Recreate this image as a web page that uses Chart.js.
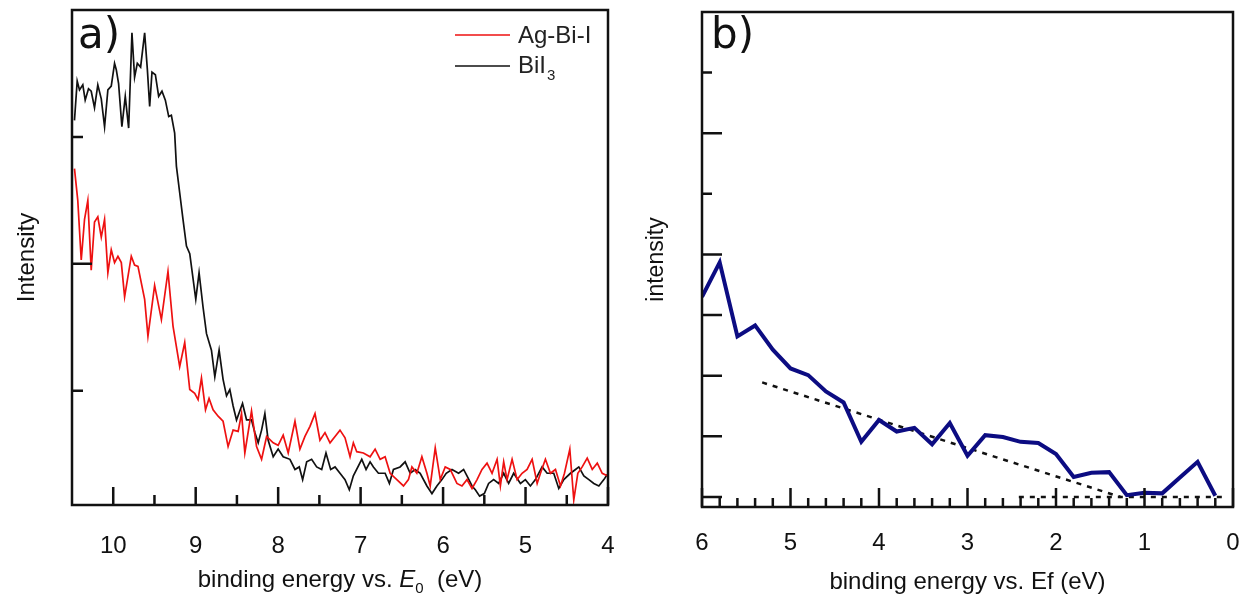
<!DOCTYPE html>
<html><head><meta charset="utf-8">
<script src="https://cdn.jsdelivr.net/npm/chart.js@4.4.1/dist/chart.umd.min.js"></script>
<style>
html,body{margin:0;padding:0;background:#fff;}
#ca{position:absolute;left:0;top:0;}
#cb{position:absolute;left:640px;top:0;}
</style></head><body>
<canvas id="ca" width="640" height="606"></canvas>
<canvas id="cb" width="604" height="606"></canvas>
<script>
// ---------- panel a data ----------
const bii3E = [10.47,10.437,10.409,10.369,10.34,10.30,10.267,10.227,10.187,10.145,10.105,10.065,10.024,9.984,9.963,9.935,9.895,9.854,9.813,9.773,9.741,9.708,9.668,9.619,9.586,9.558,9.53,9.489,9.449,9.409,9.368,9.327,9.295,9.255,9.234,9.194,9.154,9.112,9.072,8.999,8.959,8.911,8.869,8.809,8.768,8.716,8.668,8.626,8.586,8.546,8.505,8.432,8.383,8.323,8.282,8.242,8.201,8.161,8.121,8.06,8.0,7.939,7.857,7.796,7.744,7.703,7.654,7.594,7.533,7.472,7.42,7.363,7.31,7.25,7.189,7.137,7.088,6.986,6.934,6.885,6.845,6.784,6.703,6.651,6.602,6.521,6.46,6.399,6.338,6.278,6.196,6.135,6.075,6.014,5.962,5.892,5.812,5.751,5.71,5.649,5.609,5.557,5.5,5.448,5.387,5.326,5.265,5.205,5.144,5.062,5.002,4.941,4.88,4.799,4.738,4.658,4.597,4.536,4.455,4.394,4.354,4.293,4.232,4.172,4.111,4.05,4.009];
const bii3I = [3.13,3.44,3.37,3.41,3.29,3.38,3.36,3.23,3.41,3.30,3.08,3.37,3.40,3.58,3.53,3.42,3.08,3.32,3.07,3.82,3.47,3.58,3.55,3.82,3.53,3.24,3.51,3.49,3.32,3.36,3.29,3.16,3.17,3.03,2.77,2.56,2.35,2.14,2.08,1.72,1.93,1.66,1.45,1.32,1.11,1.32,1.09,0.96,1.01,0.88,0.77,0.90,0.77,0.77,0.67,0.59,0.69,0.82,0.61,0.48,0.54,0.48,0.46,0.38,0.40,0.30,0.44,0.46,0.40,0.38,0.51,0.38,0.40,0.35,0.30,0.22,0.33,0.46,0.38,0.44,0.40,0.35,0.35,0.27,0.38,0.40,0.44,0.35,0.38,0.35,0.25,0.19,0.25,0.30,0.35,0.38,0.35,0.38,0.33,0.25,0.22,0.17,0.19,0.27,0.30,0.27,0.35,0.27,0.35,0.27,0.30,0.25,0.30,0.40,0.35,0.35,0.23,0.30,0.35,0.38,0.40,0.33,0.30,0.27,0.25,0.30,0.34];
const agbiE = [10.47,10.43,10.388,10.348,10.308,10.267,10.227,10.187,10.145,10.105,10.065,10.024,9.984,9.943,9.902,9.862,9.781,9.741,9.70,9.619,9.579,9.498,9.416,9.336,9.275,9.194,9.133,9.072,9.012,8.971,8.93,8.881,8.838,8.789,8.728,8.668,8.607,8.546,8.485,8.444,8.404,8.323,8.262,8.201,8.14,8.06,8.0,7.939,7.878,7.796,7.736,7.675,7.614,7.553,7.493,7.432,7.371,7.31,7.25,7.189,7.128,7.088,7.047,6.966,6.885,6.824,6.763,6.703,6.642,6.561,6.48,6.42,6.378,6.318,6.257,6.196,6.156,6.095,6.034,5.974,5.913,5.832,5.771,5.71,5.649,5.588,5.528,5.467,5.406,5.345,5.305,5.265,5.224,5.163,5.102,5.042,4.981,4.92,4.859,4.819,4.759,4.698,4.637,4.576,4.528,4.463,4.415,4.366,4.313,4.252,4.191,4.13,4.07,4.009];
const agbiI = [2.75,2.50,2.03,2.35,2.50,1.95,2.33,2.37,2.21,2.35,1.93,2.11,2.01,2.06,2.01,1.74,2.06,1.99,1.98,1.72,1.43,1.83,1.56,1.94,1.51,1.19,1.38,1.01,0.98,0.93,1.10,0.85,0.94,0.85,0.80,0.76,0.56,0.69,0.68,0.82,0.51,0.84,0.56,0.46,0.64,0.59,0.57,0.65,0.51,0.76,0.54,0.64,0.72,0.82,0.61,0.67,0.59,0.64,0.69,0.63,0.48,0.59,0.52,0.51,0.48,0.54,0.46,0.48,0.35,0.30,0.25,0.30,0.40,0.35,0.48,0.35,0.25,0.55,0.30,0.40,0.38,0.27,0.25,0.30,0.23,0.30,0.38,0.43,0.35,0.46,0.25,0.44,0.30,0.46,0.30,0.35,0.38,0.46,0.27,0.35,0.46,0.35,0.38,0.25,0.35,0.54,0.14,0.35,0.40,0.47,0.38,0.43,0.35,0.33];
const ticksA = [10,9,8,7,6,5,4];
const seriesA = ['Ag-Bi-I','BiI'];

// ---------- panel b data ----------
const efE = [6.0,5.8,5.6,5.4,5.2,5.0,4.8,4.6,4.4,4.2,4.0,3.8,3.6,3.4,3.2,3.0,2.8,2.6,2.4,2.2,2.0,1.8,1.6,1.4,1.2,1.0,0.8,0.6,0.4,0.2];
const efI = [3.30,3.87,2.65,2.83,2.43,2.12,2.01,1.74,1.56,0.91,1.27,1.08,1.14,0.87,1.22,0.68,1.02,0.99,0.91,0.89,0.71,0.33,0.40,0.41,0.03,0.07,0.06,0.32,0.58,0.02];
const fitE = [5.32,1.27];
const fitI = [1.89,0];
const baseE = [2.42,0.06];
const baseI = [0,0];
const ticksB = [6,5,4,3,2,1,0];

const SANS = "'Liberation Sans', Arial, sans-serif";
const INK = '#111';
const zip = (xs, ys) => xs.map((x, i) => ({x, y: ys[i]}));

function frameTicks(spec) {
  return {
    id: 'frameTicks',
    afterDraw(chart) {
      const {ctx, chartArea: {left, right, top, bottom}, scales: {x, y}} = chart;
      ctx.save();
      ctx.strokeStyle = INK;
      ctx.lineWidth = 2.5;
      ctx.beginPath();
      spec.x.forEach(([v, len]) => {
        const p = x.getPixelForValue(v);
        ctx.moveTo(p, bottom); ctx.lineTo(p, bottom - len);
      });
      spec.y.forEach(([v, len]) => {
        const p = y.getPixelForValue(v);
        ctx.moveTo(left, p); ctx.lineTo(left + len, p);
      });
      ctx.stroke();
      ctx.strokeRect(left, top, right - left, bottom - top);
      ctx.restore();
    }
  };
}
const noSidePad = s => { s.paddingLeft = 0; s.paddingRight = 0; };

// ---------- panel a ----------
const xTicksA = [];
for (let v = 4; v <= 10; v++) xTicksA.push([v, 18]);
for (let v = 4.5; v < 10.5; v += 1) xTicksA.push([v, 10]);
const yTicksA = [[1, 11], [2, 20], [3, 11]];

const decorA = {
  id: 'decorA',
  afterDraw(chart) {
    const {ctx, chartArea: {left, right}} = chart;
    ctx.save();
    ctx.fillStyle = INK;
    ctx.font = "42px 'DejaVu Sans'";
    ctx.textBaseline = 'alphabetic';
    ctx.textAlign = 'left';
    ctx.fillText('a)', 78, 48);
    // legend
    ctx.lineWidth = 1.6;
    ctx.strokeStyle = '#ee1111';
    ctx.beginPath(); ctx.moveTo(455, 35); ctx.lineTo(510, 35); ctx.stroke();
    ctx.strokeStyle = '#111';
    ctx.beginPath(); ctx.moveTo(455, 66); ctx.lineTo(510, 66); ctx.stroke();
    ctx.font = '24px ' + SANS;
    ctx.textBaseline = 'middle';
    ctx.fillStyle = '#222';
    ctx.fillText(seriesA[0], 518, 36);
    ctx.fillText(seriesA[1], 518, 66);
    const w = ctx.measureText(seriesA[1]).width;
    ctx.font = '15px ' + SANS;
    ctx.fillText('3', 518 + w + 1, 76);
    // x title with italic E and subscript 0
    const parts = [
      {t: 'binding energy vs. ', f: '24px ' + SANS, dy: 0},
      {t: 'E', f: 'italic 24px ' + SANS, dy: 0},
      {t: '0', f: '15px ' + SANS, dy: 9},
      {t: '  (eV)', f: '24px ' + SANS, dy: 0}
    ];
    let total = 0;
    parts.forEach(p => { ctx.font = p.f; p.w = ctx.measureText(p.t).width; total += p.w; });
    let cx = (left + right) / 2 - total / 2;
    const cy = 580;
    ctx.fillStyle = INK;
    parts.forEach(p => { ctx.font = p.f; ctx.fillText(p.t, cx, cy + p.dy); cx += p.w; });
    ctx.restore();
  }
};

new Chart(document.getElementById('ca'), {
  type: 'line',
  data: {
    datasets: [
      {label: seriesA[0], data: zip(agbiE, agbiI), borderColor: '#ee1111', borderWidth: 1.7, pointRadius: 0, tension: 0},
      {label: seriesA[1] + '3', data: zip(bii3E, bii3I), borderColor: '#111', borderWidth: 1.7, pointRadius: 0, tension: 0}
    ]
  },
  options: {
    responsive: false,
    animation: false,
    layout: {padding: {left: 0, top: 10, right: 32, bottom: 0}},
    plugins: {legend: {display: false}, tooltip: {enabled: false}},
    scales: {
      x: {
        type: 'linear', reverse: true, min: 4, max: 10.5,
        grid: {display: false, drawTicks: false}, border: {display: false},
        afterBuildTicks: s => { s.ticks = ticksA.map(v => ({value: v})); },
        afterFit: s => { s.height = 101; noSidePad(s); },
        ticks: {font: {family: SANS, size: 24}, color: INK, padding: 27, maxRotation: 0, autoSkip: false},
        title: {display: false}
      },
      y: {
        type: 'linear', min: 0.1, max: 4.0,
        grid: {display: false, drawTicks: false}, border: {display: false},
        ticks: {display: false},
        afterFit: s => { s.width = 72; },
        title: {display: true, text: 'Intensity', font: {family: SANS, size: 24}, color: INK, padding: {top: 13, bottom: 0}}
      }
    }
  },
  plugins: [frameTicks({x: xTicksA, y: yTicksA}), decorA]
});

// ---------- panel b ----------
const xTicksB = [];
for (let v = 0; v <= 6; v++) xTicksB.push([v, 19]);
for (let i = 1; i < 30; i++) if (i % 5 !== 0) xTicksB.push([i / 5, 9]);
const yTicksB = [[0, 20], [1, 20], [2, 20], [3, 20], [4, 20], [5, 10], [6, 20], [7, 10]];

const decorB = {
  id: 'decorB',
  afterDraw(chart) {
    const {ctx} = chart;
    ctx.save();
    ctx.fillStyle = INK;
    ctx.font = "42px 'DejaVu Sans'";
    ctx.textBaseline = 'alphabetic';
    ctx.fillText('b)', 71, 48);
    ctx.restore();
  }
};

new Chart(document.getElementById('cb'), {
  type: 'line',
  data: {
    datasets: [
      {label: 'intensity', data: zip(efE, efI), borderColor: '#0c0c82', borderWidth: 4, pointRadius: 0, tension: 0, borderJoinStyle: 'miter'},
      {label: 'fit', data: zip(fitE, fitI), borderColor: '#111', borderWidth: 2.5, borderDash: [5, 6], pointRadius: 0},
      {label: 'base', data: zip(baseE, baseI), borderColor: '#111', borderWidth: 2.5, borderDash: [5, 6], pointRadius: 0}
    ]
  },
  options: {
    responsive: false,
    animation: false,
    layout: {padding: {left: 0, top: 12, right: 11, bottom: 0}},
    plugins: {legend: {display: false}, tooltip: {enabled: false}},
    scales: {
      x: {
        type: 'linear', reverse: true, min: 0, max: 6,
        grid: {display: false, drawTicks: false}, border: {display: false},
        afterBuildTicks: s => { s.ticks = ticksB.map(v => ({value: v})); },
        afterFit: s => { s.height = 99; noSidePad(s); },
        ticks: {font: {family: SANS, size: 24}, color: INK, padding: 22, maxRotation: 0, autoSkip: false},
        title: {display: true, text: 'binding energy vs. Ef (eV)', font: {family: SANS, size: 24}, color: INK, padding: {top: 0, bottom: 9}}
      },
      y: {
        type: 'linear', min: -0.165, max: 8.0,
        grid: {display: false, drawTicks: false}, border: {display: false},
        ticks: {display: false},
        afterFit: s => { s.width = 62; },
        title: {display: true, text: 'intensity', font: {family: SANS, size: 23}, color: INK, padding: {top: 3, bottom: 0}}
      }
    }
  },
  plugins: [frameTicks({x: xTicksB, y: yTicksB}), decorB]
});
</script>
</body></html>
